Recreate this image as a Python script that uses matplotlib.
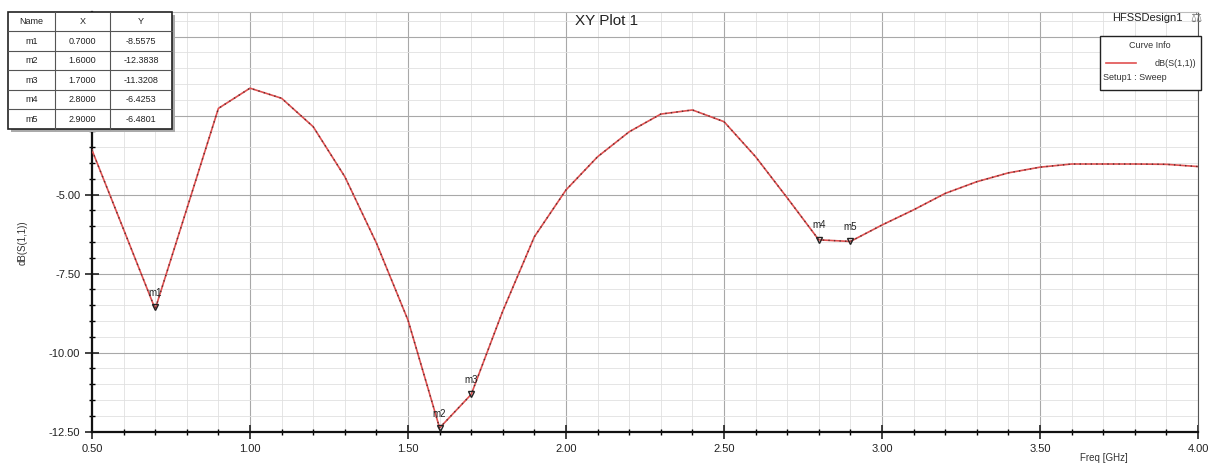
import numpy as np
import matplotlib.pyplot as plt
from matplotlib.patches import Rectangle
from matplotlib.ticker import MultipleLocator, FormatStrFormatter, FuncFormatter

plt.rcParams['font.family'] = ['Liberation Sans', 'DejaVu Sans']

# ---- data ----
freq = [0.5, 0.6, 0.7, 0.8, 0.9, 1.0, 1.1, 1.2, 1.3, 1.4, 1.5, 1.6, 1.7, 1.8,
        1.9, 2.0, 2.1, 2.2, 2.3, 2.4, 2.5, 2.6, 2.7, 2.8, 2.9, 3.0, 3.1, 3.2,
        3.3, 3.4, 3.5, 3.6, 3.7, 3.8, 3.9, 4.0]
s11_db = [-3.59, -6.10, -8.62, -5.45, -2.27, -1.63, -1.95, -2.85, -4.43, -6.53,
          -8.97, -12.38, -11.32, -8.68, -6.33, -4.85, -3.80, -3.01, -2.45, -2.32,
          -2.69, -3.80, -5.10, -6.43, -6.48, -5.96, -5.48, -4.96, -4.59, -4.31,
          -4.13, -4.03, -4.03, -4.03, -4.04, -4.11]

marker_names = ['m1', 'm2', 'm3', 'm4', 'm5']
marker_x = [0.7, 1.6, 1.7, 2.8, 2.9]
marker_y = [-8.5575, -12.3838, -11.3208, -6.4253, -6.4801]

W, H = 1213, 465
fig = plt.figure(figsize=(W / 100, H / 100), dpi=100)
fig.patch.set_facecolor('white')


def fx(px):
    return px / W


def fy(py):
    return 1 - py / H


ax = fig.add_axes([fx(92), fy(431.7), fx(1198) - fx(92), fy(12) - fy(431.7)])
ax.set_xlim(0.5, 4.0)
ax.set_ylim(-12.5, 0.78)

# grid
ax.xaxis.set_major_locator(MultipleLocator(0.5))
ax.xaxis.set_minor_locator(MultipleLocator(0.1))
ax.yaxis.set_major_locator(MultipleLocator(2.5))
ax.yaxis.set_minor_locator(MultipleLocator(0.5))
ax.xaxis.set_major_formatter(FormatStrFormatter('%.2f'))
# labels above -5 sit under the marker table in the original
ax.yaxis.set_major_formatter(FuncFormatter(lambda v, p: f'{v:.2f}' if v <= -4.9 else ''))
ax.grid(True, which='major', color='#a8a8a8', lw=0.8)
ax.grid(True, which='minor', color='#e0e0e0', lw=0.6)
ax.set_axisbelow(True)

ax.tick_params(which='major', direction='inout', length=10, width=1.2,
               labelsize=8, colors='#222222')
ax.tick_params(which='minor', direction='inout', length=5, width=1.0)
for s in ['left', 'bottom']:
    ax.spines[s].set_linewidth(1.6)
    ax.spines[s].set_color('#111111')
ax.spines['right'].set_color('#555555')
ax.spines['top'].set_color('#bbbbbb')

# curve
ax.plot(freq, s11_db, color='#e05050', lw=1.2, zorder=3)
ax.plot(freq, s11_db, color='#5a3030', lw=1.0, ls=(0, (1, 3)), zorder=4)

# markers
for name, mx, my in zip(marker_names, marker_x, marker_y):
    ax.plot(mx, my, marker='v', ms=4, mfc='none', mec='#222222', zorder=5)
    ax.text(mx, my + 0.3, name, fontsize=7, ha='center', va='bottom',
            color='#222222', zorder=5)

ax.set_xlabel('Freq [GHz]', fontsize=7, color='#333333')
ax.xaxis.set_label_coords(0.915, -0.05)
ax.set_ylabel('dB(S(1,1))', fontsize=7, color='#333333')
ax.yaxis.set_label_coords(-0.058, 0.45)

fig.text(0.5, fy(21), 'XY Plot 1', ha='center', va='center', fontsize=11,
         color='#222222')
fig.text(fx(1183), fy(18), 'HFSSDesign1', ha='right', va='center', fontsize=8,
         color='#222222')
fig.text(fx(1196), fy(18), '\u2696', ha='center', va='center', fontsize=9,
         color='#777777', family=['DejaVu Sans'])

# legend box
fig.add_artist(Rectangle((fx(1100), fy(90)), fx(101), fy(36) - fy(90),
                         transform=fig.transFigure, fc='white', ec='#222222',
                         lw=1.0, zorder=10))
fig.text(fx(1150), fy(46), 'Curve Info', ha='center', va='center', fontsize=6.5,
         color='#333333', zorder=11)
fig.lines.append(plt.Line2D([fx(1106), fx(1136)], [fy(63), fy(63)],
                            transform=fig.transFigure, color='#e05050', lw=1.2,
                            zorder=11))
fig.text(fx(1196), fy(63), 'dB(S(1,1))', ha='right', va='center', fontsize=6.5,
         color='#333333', zorder=11)
fig.text(fx(1103), fy(78), 'Setup1 : Sweep', ha='left', va='center',
         fontsize=6.5, color='#333333', zorder=11)

# marker table
col_edges = [8, 55, 110, 172]
row_top, row_h = 12, 19.5
fig.add_artist(Rectangle((fx(col_edges[0] + 3), fy(row_top + 6 * row_h + 3)),
                         fx(col_edges[-1] - col_edges[0]), fy(0) - fy(6 * row_h),
                         transform=fig.transFigure, fc='#aaaaaa', ec='none',
                         zorder=10))
fig.add_artist(Rectangle((fx(col_edges[0]), fy(row_top + 6 * row_h)),
                         fx(col_edges[-1] - col_edges[0]), fy(0) - fy(6 * row_h),
                         transform=fig.transFigure, fc='white', ec='#222222',
                         lw=1.2, zorder=11))
rows = [['Name', 'X', 'Y']] + [
    [n, f'{x:.4f}', f'{y:.4f}'] for n, x, y in zip(marker_names, marker_x, marker_y)]
for i, row in enumerate(rows):
    y0 = row_top + i * row_h
    if i > 0:
        fig.lines.append(plt.Line2D([fx(col_edges[0]), fx(col_edges[-1])],
                                    [fy(y0), fy(y0)], transform=fig.transFigure,
                                    color='#555555', lw=0.8, zorder=12))
    for j, val in enumerate(row):
        xc = (col_edges[j] + col_edges[j + 1]) / 2
        fig.text(fx(xc), fy(y0 + row_h / 2), val, ha='center', va='center',
                 fontsize=6.5, color='#222222', zorder=13)
for e in col_edges[1:-1]:
    fig.lines.append(plt.Line2D([fx(e), fx(e)], [fy(row_top), fy(row_top + 6 * row_h)],
                                transform=fig.transFigure, color='#555555',
                                lw=0.8, zorder=12))

fig.savefig('out.png', dpi=100)
